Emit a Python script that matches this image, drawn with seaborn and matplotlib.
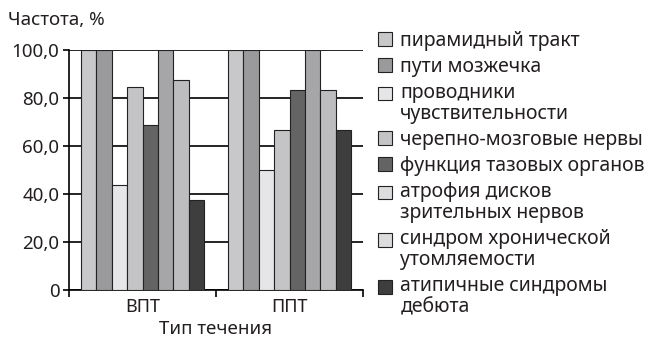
import matplotlib
matplotlib.use("Agg")
import matplotlib.pyplot as plt
import matplotlib.patches as mpatches
from matplotlib.legend_handler import HandlerPatch
import seaborn as sns
import pandas as pd

courses = ["ВПТ", "ППТ"]
signs = ["пирамидный тракт", "пути мозжечка", "проводники\nчувствительности",
         "черепно-мозговые нервы", "функция тазовых органов",
         "атрофия дисков\nзрительных нервов", "синдром хронической\nутомляемости",
         "атипичные синдромы\nдебюта"]
vpt_values = [100.0, 100.0, 43.8, 84.6, 68.8, 100.0, 87.5, 37.5]
ppt_values = [100.0, 100.0, 50.0, 66.7, 83.3, 100.0, 83.3, 66.7]
y_ticks = [0, 20, 40, 60, 80, 100]
y_tick_labels = ["0", "20,0", "40,0", "60,0", "80,0", "100,0"]
colors = ["#c8c8ca", "#9a9a9c", "#e6e6e8", "#c4c4c6", "#646464", "#a6a6a8", "#bdbdbf", "#3e3e3e"]
legend_colors = ["#c8c8ca", "#9a9a9c", "#e6e6e8", "#c4c4c6", "#646464", "#dcdcde", "#dcdcde", "#3e3e3e"]

rows = []
for c, vals in zip(courses, [vpt_values, ppt_values]):
    for s, v in zip(signs, vals):
        rows.append({"course": c, "sign": s, "value": v})
df = pd.DataFrame(rows)

sns.set_theme(style="white")
plt.rcParams["font.family"] = ["Noto Sans", "DejaVu Sans"]
TXT = "#231f20"
LEG_FS = 14
LINESP = 1.1

fig = plt.figure(figsize=(6.49, 3.38), dpi=100)
ax = fig.add_axes([69/649, 1 - 290/338, (363-69)/649, 240/338])

sns.barplot(data=df, x="course", y="value", hue="sign", hue_order=signs,
            order=courses, palette=colors, width=0.84, edgecolor="#222222",
            linewidth=0.8, saturation=1, ax=ax, zorder=3)

ax.set_ylim(0, 100)
ax.set_xlim(-0.5, 1.5)
ax.set_yticks(y_ticks)
ax.set_yticklabels(y_tick_labels, fontsize=13.5, color=TXT)
ax.set_xticks([0, 1])
ax.set_xticklabels(courses, fontsize=13, color=TXT)
ax.set_xticks([-0.5, 0.5, 1.5], minor=True)
ax.tick_params(axis="x", which="major", length=0, pad=6)
ax.tick_params(axis="x", which="minor", length=5, width=1.2, color="black", direction="out", bottom=True)
ax.tick_params(axis="y", length=4, width=1.2, color="black", direction="out", left=True, pad=3)
ax.yaxis.grid(True, color="black", linewidth=1.2, zorder=0)
ax.set_axisbelow(True)
for s in ["top", "right"]:
    ax.spines[s].set_visible(False)
for s in ["left", "bottom"]:
    ax.spines[s].set_color("black")
    ax.spines[s].set_linewidth(1.2)
ax.set_xlabel("Тип течения", fontsize=13.5, color=TXT, labelpad=3)
ax.set_ylabel("")
fig.text(8/649, 1 - 20/338, "Частота, %", fontsize=13.5, color=TXT, va="center", ha="left")


class TopAlignedPatch(HandlerPatch):
    def __init__(self, nlines, **kw):
        super().__init__(**kw)
        self.shift = (nlines - 1) * 0.5 * LINESP * LEG_FS

    def _create_patch(self, legend, orig_handle, xdescent, ydescent, width, height, fontsize):
        return mpatches.Rectangle(xy=(-xdescent, -ydescent + self.shift), width=width, height=height)


ax.legend_.remove()
handles = [mpatches.Rectangle((0, 0), 1, 1, facecolor=c, edgecolor="#222222", linewidth=0.8)
           for c in legend_colors]
hmap = {h: TopAlignedPatch(lbl.count("\n") + 1) for h, lbl in zip(handles, signs)}
leg = fig.legend(handles, signs, loc="upper left", bbox_to_anchor=(378/649, 1 - 31/338),
                 frameon=False, fontsize=LEG_FS, handlelength=0.7, handleheight=0.7,
                 handletextpad=0.45, labelspacing=0.3, borderaxespad=0, borderpad=0,
                 labelcolor=TXT, handler_map=hmap)
for t in leg.get_texts():
    t.set_linespacing(LINESP)

fig.savefig("out.png", dpi=100)
